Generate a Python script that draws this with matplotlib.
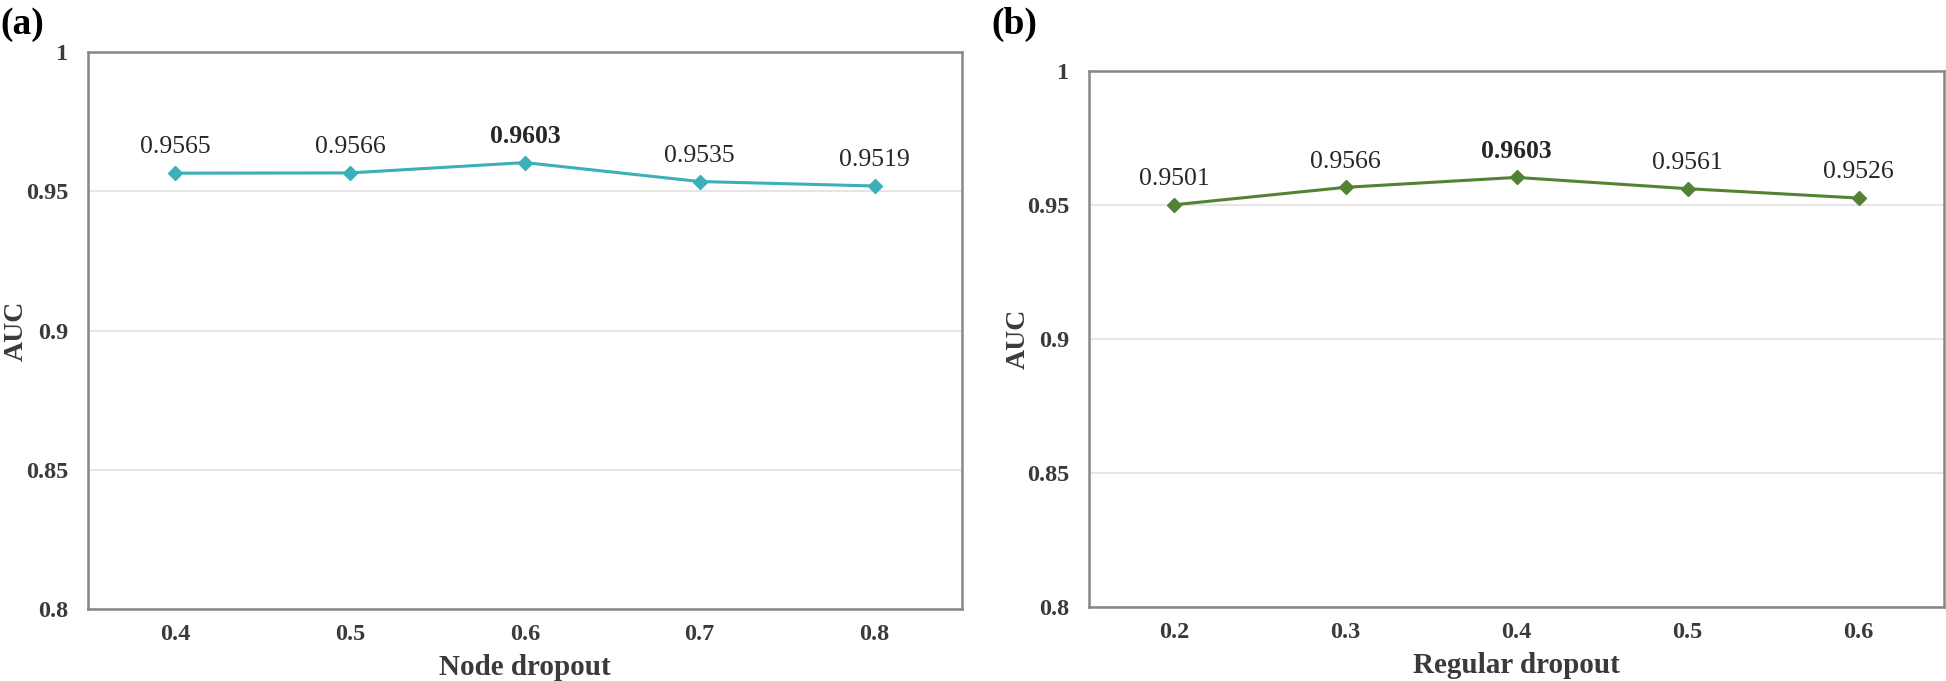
import matplotlib
matplotlib.use('Agg')
import matplotlib.pyplot as plt

plt.rcParams['font.family'] = ['Liberation Serif', 'DejaVu Serif']

node_dropout = ['0.4', '0.5', '0.6', '0.7', '0.8']
node_auc = [0.9565, 0.9566, 0.9603, 0.9535, 0.9519]

regular_dropout = ['0.2', '0.3', '0.4', '0.5', '0.6']
regular_auc = [0.9501, 0.9566, 0.9603, 0.9561, 0.9526]

y_ticks = [0.8, 0.85, 0.9, 0.95, 1.0]
y_ticklabels = ['0.8', '0.85', '0.9', '0.95', '1']

SPINE = '#878787'
GRID = '#e0e0e0'
TEXT = '#262626'
TICK = '#3a3a3a'


def draw_panel(ax, cats, vals, color, xlabel):
    x = list(range(len(cats)))
    ax.plot(x, vals, color=color, linewidth=2.2, marker='D', markersize=7.5,
            zorder=3)
    best = max(vals)
    for xi, v in zip(x, vals):
        ax.annotate('%.4f' % v, (xi, v), xytext=(0, 18.5), textcoords='offset points',
                    ha='center', va='center', fontsize=18.5, color=TEXT,
                    fontweight='bold' if v == best else 'normal')
    ax.set_xlim(-0.5, len(cats) - 0.5)
    ax.set_ylim(0.8, 1.0)
    ax.set_xticks(x)
    ax.set_xticklabels(cats)
    ax.set_yticks(y_ticks)
    ax.set_yticklabels(y_ticklabels)
    ax.tick_params(axis='both', length=0, labelsize=17.5, labelcolor=TICK)
    ax.tick_params(axis='y', pad=14)
    ax.tick_params(axis='x', pad=11)
    for lab in ax.get_xticklabels() + ax.get_yticklabels():
        lab.set_fontweight('bold')
    ax.grid(axis='y', color=GRID, linewidth=1.2)
    ax.set_axisbelow(True)
    for s in ax.spines.values():
        s.set_color(SPINE)
        s.set_linewidth(1.8)
    ax.set_xlabel(xlabel, fontsize=21, fontweight='bold', color=TICK, labelpad=6)
    ax.set_ylabel('AUC', fontsize=20, fontweight='bold', color=TICK)
    ax.yaxis.set_label_coords(-0.068, 0.5)


fig = plt.figure(figsize=(19.46, 6.81), dpi=100)
ax1 = fig.add_axes([0.0452, 0.1057, 0.4491, 0.8179])
ax2 = fig.add_axes([0.5596, 0.1087, 0.4394, 0.7870])

draw_panel(ax1, node_dropout, node_auc, '#3BB0B8', 'Node dropout')
draw_panel(ax2, regular_dropout, regular_auc, '#548235', 'Regular dropout')

fig.text(0.0, 0.99, '(a)', fontsize=27, fontweight='bold', color='black',
         ha='left', va='top')
fig.text(0.5093, 0.99, '(b)', fontsize=27, fontweight='bold', color='black',
         ha='left', va='top')

fig.savefig('out.png', dpi=100)
